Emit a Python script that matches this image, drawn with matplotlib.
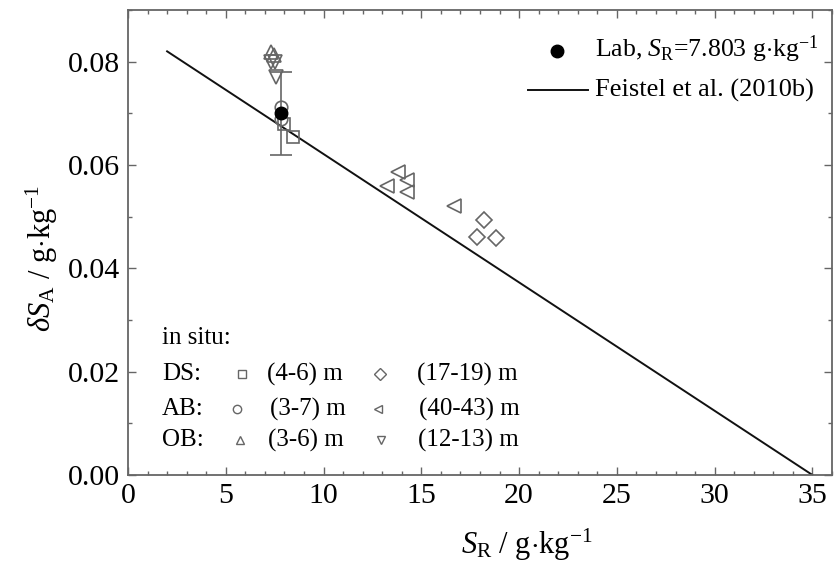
import matplotlib
matplotlib.use("Agg")
import matplotlib.pyplot as plt
from matplotlib.ticker import MultipleLocator

plt.rcParams['font.family'] = ['Liberation Serif', 'DejaVu Serif']
plt.rcParams['mathtext.fontset'] = 'custom'
plt.rcParams['mathtext.rm'] = 'Liberation Serif'
plt.rcParams['mathtext.it'] = 'Liberation Serif:italic'
plt.rcParams['mathtext.bf'] = 'Liberation Serif:bold'

# ---- data ----
ds_shallow_x = [7.97, 8.43]
ds_shallow_y = [0.0679, 0.0655]
ds_deep_x = [18.21, 17.87, 18.80]
ds_deep_y = [0.0493, 0.0460, 0.0458]
ab_shallow_x = [7.80, 7.80]
ab_shallow_y = [0.0712, 0.0690]
ab_deep_x = [13.80, 14.26, 13.24, 14.26, 16.68]
ab_deep_y = [0.0586, 0.0571, 0.0560, 0.0547, 0.0520]
ob_shallow_x = [7.30, 7.45]
ob_shallow_y = [0.0818, 0.0812]
ob_deep_x = [7.33, 7.53, 7.55]
ob_deep_y = [0.0800, 0.0800, 0.0770]
lab_x = [7.803]
lab_y = [0.0700]
lab_err = [0.0080]
feistel_x = [2.0, 35.0]
feistel_y = [0.0820, 0.0]

W, H = 834, 564
fig = plt.figure(figsize=(W / 100, H / 100), dpi=100)
ax = fig.add_axes([128 / W, 1 - 475 / H, 704 / W, 465 / H])

grey = '#666666'
mk = dict(linestyle='none', markerfacecolor='none', markeredgecolor=grey,
          markeredgewidth=1.2, zorder=3)

ax.plot(feistel_x, feistel_y, color='#111111', lw=1.4, zorder=2)
ax.errorbar(lab_x, lab_y, yerr=lab_err, fmt='none', ecolor=grey, elinewidth=1.2,
            capsize=8, capthick=1.2, zorder=3)
ax.plot(ds_shallow_x, ds_shallow_y, marker='s', markersize=8, **mk)
ax.plot(ds_deep_x, ds_deep_y, marker='D', markersize=8, **mk)
ax.plot(ab_shallow_x, ab_shallow_y, marker='o', markersize=9, **mk)
ax.plot(ab_deep_x, ab_deep_y, marker='<', markersize=10, **mk)
ax.plot(ob_shallow_x, ob_shallow_y, marker='^', markersize=10, **mk)
ax.plot(ob_deep_x, ob_deep_y, marker='v', markersize=10, **mk)
ax.plot(lab_x, lab_y, marker='o', markersize=9, color='black', linestyle='none', zorder=4)

ax.set_xlim(0, 36)
ax.set_ylim(0, 0.09)
ax.xaxis.set_minor_locator(MultipleLocator(1))
ax.yaxis.set_minor_locator(MultipleLocator(0.01))
ax.set_xticks([0, 5, 10, 15, 20, 25, 30, 35])
ax.set_xticklabels(['0', '5', '10', '15', '20', '25', '30', '35'])
ax.set_yticks([0, 0.02, 0.04, 0.06, 0.08])
ax.set_yticklabels(['0.00', '0.02', '0.04', '0.06', '0.08'])
ax.tick_params(which='both', direction='in', top=True, right=True, colors=grey,
               labelcolor='black', labelsize=21.5, width=1.0)
ax.tick_params(which='major', length=6, pad=6)
ax.tick_params(which='minor', length=3)
for s in ax.spines.values():
    s.set_color(grey)
    s.set_linewidth(1.3)

ax.text(0.567, -0.170, r'$S_{\mathrm{R}}$ / g$\cdot$kg$^{\mathrm{-1}}$', transform=ax.transAxes,
        ha='center', va='baseline', fontsize=22)
fig.text(42 / W, 1 - 258 / H, r'$\delta S_{\mathrm{A}}$ / g$\cdot$kg$^{\mathrm{-1}}$',
         rotation=90, ha='center', va='center', fontsize=22)

# main legend
ax.plot([0.609], [0.912], marker='o', markersize=9, color='black', transform=ax.transAxes,
        clip_on=False, linestyle='none')
ax.text(0.663, 0.916, r'Lab, $S_{\mathrm{R}}$=7.803 g$\cdot$kg$^{\mathrm{-1}}$', transform=ax.transAxes,
        ha='left', va='center', fontsize=18.5)
ax.plot([0.568, 0.653], [0.828, 0.828], color='#111111', lw=1.4, transform=ax.transAxes)
ax.text(0.663, 0.828, 'Feistel et al. (2010b)', transform=ax.transAxes,
        ha='left', va='center', fontsize=19)

# in situ legend
fs = 18
ax.text(0.0483, 0.2946, 'in situ:', transform=ax.transAxes, ha='left', va='center', fontsize=fs)
rows = [
    (0.217, 'DS:', 's', 0.162, '(4-6) m', 0.197, 'D', 0.358, '(17-19) m', 0.410),
    (0.142, 'AB:', 'o', 0.155, '(3-7) m', 0.201, '<', 0.355, '(40-43) m', 0.414),
    (0.075, 'OB:', '^', 0.159, '(3-6) m', 0.199, 'v', 0.360, '(12-13) m', 0.412),
]
for (yy, lab, m1, x1, t1, xt1, m2, x2, t2, xt2) in rows:
    ax.text(0.0483, yy, lab, transform=ax.transAxes, ha='left', va='center', fontsize=fs)
    ax.plot([x1], [yy], marker=m1, markersize=6, transform=ax.transAxes, clip_on=False,
            linestyle='none', markerfacecolor='none', markeredgecolor=grey, markeredgewidth=1.0)
    ax.text(xt1, yy, t1, transform=ax.transAxes, ha='left', va='center', fontsize=fs)
    ax.plot([x2], [yy], marker=m2, markersize=6, transform=ax.transAxes, clip_on=False,
            linestyle='none', markerfacecolor='none', markeredgecolor=grey, markeredgewidth=1.0)
    ax.text(xt2, yy, t2, transform=ax.transAxes, ha='left', va='center', fontsize=fs)

fig.savefig('out.png', dpi=100)
